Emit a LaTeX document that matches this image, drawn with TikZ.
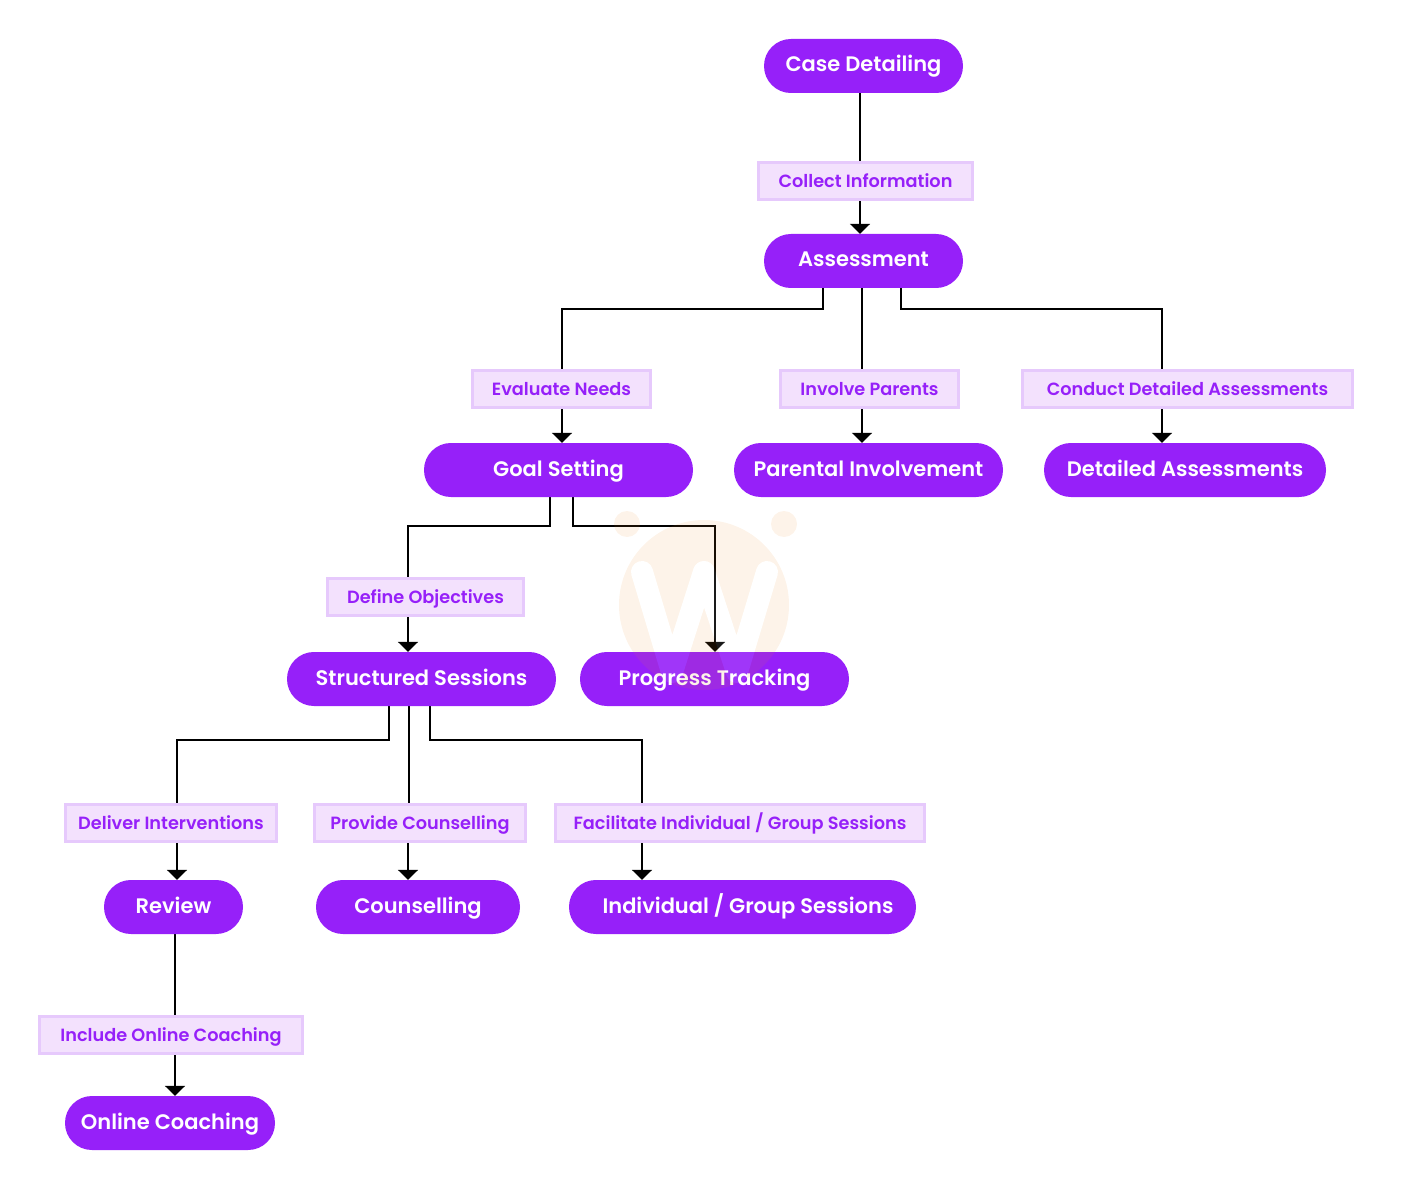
\documentclass[tikz,border=0pt]{standalone}
\usepackage{fontspec}
\setmainfont{Poppins}
\newfontfamily\stagefont{Poppins SemiBold}
\usetikzlibrary{arrows.meta,backgrounds}
\definecolor{pill}{HTML}{9620F9}
\definecolor{tag}{HTML}{F3E1FD}
\definecolor{tagline}{HTML}{E6C9FC}
\definecolor{wmark}{HTML}{EB8723}
\tikzset{
  stage/.style={fill=pill,text=white,rounded corners=26.9pt,minimum height=54pt,inner sep=0pt,text height=16pt,text depth=4pt,font=\fontsize{21}{24}\stagefont},
  tagbox/.style={draw=tagline,line width=3pt,fill=tag,text=pill,minimum height=37pt,inner sep=0pt,text height=15pt,text depth=2pt,font=\fontsize{17.7}{22}\stagefont},
  ln/.style={line width=2pt,draw=black},
  ar/.style={ln,-{Triangle[length=10pt,width=20pt]}},
}
\begin{document}
\begin{tikzpicture}[x=1pt,y=-1pt]
\useasboundingbox (0,0) rectangle (1411,1198);
% stages
\node[stage,minimum width=199pt] (case) at (863.5,66) {Case Detailing};
\node[stage,minimum width=199pt] (assess) at (863.5,261) {Assessment};
\node[stage,minimum width=269pt] (goal) at (558.5,470) {Goal Setting};
\node[stage,minimum width=269pt] (parent) at (868.5,470) {Parental Involvement};
\node[stage,minimum width=282pt] (detail) at (1185,470) {Detailed Assessments};
\node[stage,minimum width=269pt] (sessions) at (421.5,679) {Structured Sessions};
\node[stage,minimum width=269pt] (progress) at (714.5,679) {Progress Tracking};
\node[stage,minimum width=139pt] (review) at (173.5,907) {Review};
\node[stage,minimum width=204pt] (counsel) at (418,907) {Counselling};
\node[stage,minimum width=347pt] (group) at (742.5,907) {\hspace*{11pt}Individual / Group Sessions};
\node[stage,minimum width=210pt] (online) at (170,1123) {Online Coaching};
% tags
\node[tagbox,minimum width=214pt] (collect) at (865.5,181.5) {Collect Information};
\node[tagbox,minimum width=178pt] (needs) at (561.5,388.5) {Evaluate Needs};
\node[tagbox,minimum width=178pt] (involve) at (869.5,388.5) {Involve Parents};
\node[tagbox,minimum width=330pt] (conduct) at (1187.5,388.5) {Conduct Detailed Assessments};
\node[tagbox,minimum width=196pt] (define) at (425.5,596.5) {Define Objectives};
\node[tagbox,minimum width=211pt] (deliver) at (171,822.5) {Deliver Interventions};
\node[tagbox,minimum width=211pt] (provide) at (420,822.5) {Provide Counselling};
\node[tagbox,minimum width=369pt] (facil) at (740,822.5) {Facilitate Individual / Group Sessions};
\node[tagbox,minimum width=263pt] (include) at (171,1034.5) {Include Online Coaching};
% connectors
\begin{scope}[on background layer]
\draw[ln] ([xshift=-3.5pt]case.south) -- ([xshift=-5.5pt]collect.north);
\draw[ar] ([xshift=-5.5pt]collect.south) -- ([xshift=-3.5pt]assess.north);
\draw[ln] ([xshift=-40.5pt]assess.south) |- (700,309) -| ([xshift=.5pt]needs.north);
\draw[ln] ([xshift=-1.5pt]assess.south) -- ([xshift=-7.5pt]involve.north);
\draw[ln] ([xshift=37.5pt]assess.south) |- (1000,309) -| ([xshift=-25.5pt]conduct.north);
\draw[ar] ([xshift=.5pt]needs.south) -- ([xshift=3.5pt]goal.north);
\draw[ar] ([xshift=-7.5pt]involve.south) -- ([xshift=-6.5pt]parent.north);
\draw[ar] ([xshift=-25.5pt]conduct.south) -- ([xshift=-23pt]detail.north);
\draw[ln] ([xshift=-8.5pt]goal.south) |- (480,526) -| ([xshift=-17.5pt]define.north);
\draw[ar] ([xshift=14.5pt]goal.south) |- (650,526) -| ([xshift=.5pt]progress.north);
\draw[ar] ([xshift=-17.5pt]define.south) -- ([xshift=-13.5pt]sessions.north);
\draw[ln] ([xshift=-32.5pt]sessions.south) |- (280,740) -| ([xshift=6pt]deliver.north);
\draw[ln] ([xshift=-12.5pt]sessions.south) -- ([xshift=-11pt]provide.north);
\draw[ln] ([xshift=8.5pt]sessions.south) |- (530,740) -| ([xshift=-98pt]facil.north);
\draw[ar] ([xshift=6pt]deliver.south) -- ([xshift=3.5pt]review.north);
\draw[ar] ([xshift=-12pt]provide.south) -- ([xshift=-10pt]counsel.north);
\draw[ar] ([xshift=-98pt]facil.south) -- ([xshift=-100.5pt]group.north);
\draw[ln] ([xshift=1.5pt]review.south) -- ([xshift=4pt]include.north);
\draw[ar] ([xshift=4pt]include.south) -- ([xshift=5pt]online.north);
\end{scope}
% watermark
\begin{scope}[transparency group,opacity=.1]
\fill[wmark] (704,605) circle (85);
\fill[wmark] (627,524) circle (13);
\fill[wmark] (784,524) circle (13);
\draw[white,line width=22pt,line cap=round,line join=round] (642,572) -- (672,672) -- (704,572) -- (737,672) -- (767,572);
\end{scope}
\end{tikzpicture}
\end{document}
